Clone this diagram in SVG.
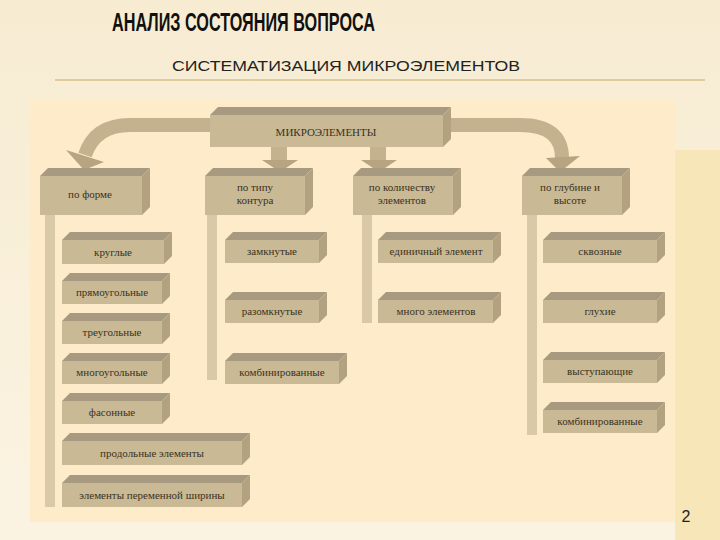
<svg xmlns="http://www.w3.org/2000/svg" width="720" height="540" viewBox="0 0 720 540">
<defs>
<style>
.t{fill:#a79a80}.f{fill:#c9b994}.s{fill:#b2a27f}.bar{fill:#d9c9a6}
.lb{font-family:"Liberation Serif",serif;font-size:11px;fill:#3a3222;text-anchor:middle}
.pipe{fill:none;stroke:#c4b28f;stroke-width:14}
</style>
<linearGradient id="bg" x1="0" y1="0" x2="0" y2="1"><stop offset="0" stop-color="#f7ecd2"/><stop offset="1" stop-color="#fbf3e2"/></linearGradient>
</defs>
<rect width="720" height="540" fill="url(#bg)"/>
<rect x="675" y="150" width="45" height="390" fill="#f6e6b8"/>
<line x1="55" y1="80" x2="705" y2="80" stroke="#d8c08a" stroke-width="1.5"/>
<text x="112" y="31" font-family="Liberation Sans,sans-serif" font-size="26" font-weight="bold" fill="#111" textLength="263" lengthAdjust="spacingAndGlyphs">АНАЛИЗ СОСТОЯНИЯ ВОПРОСА</text>
<text x="172" y="71" font-family="Liberation Sans,sans-serif" font-size="15" fill="#222" textLength="348" lengthAdjust="spacingAndGlyphs">СИСТЕМАТИЗАЦИЯ МИКРОЭЛЕМЕНТОВ</text>
<rect x="30" y="100" width="645" height="422" fill="#fdebc9"/>

<g id="connectors">
<path class="pipe" d="M212,125 H130 Q95,125 85,155"/>
<polygon points="66,150 104,162 84,170" fill="#b7a582"/>
<path class="pipe" d="M440,125 H520 Q562,125 562,158"/>
<polygon points="546,158 580,156 560,172" fill="#b7a582"/>
<rect x="271" y="147" width="16" height="16" fill="#c4b28f"/><polygon points="262,160 298,160 280,172" fill="#b7a582"/>
<rect x="370" y="147" width="16" height="16" fill="#c4b28f"/><polygon points="361,160 397,160 379,172" fill="#b7a582"/>
<rect class="bar" x="45" y="215" width="10" height="292"/>
<rect class="bar" x="207" y="215" width="10" height="165"/>
<rect class="bar" x="362" y="215" width="10" height="108"/>
<rect class="bar" x="527" y="215" width="10" height="220"/>
</g>

<g id="n0"><polygon class="t" points="210,115 218,107 451,107 443,115"/><rect class="f" x="210" y="115" width="233" height="32"/><polygon class="s" points="443,115 451,107 451,139 443,147"/><text class="lb" x="326" y="136" font-size="15">МИКРОЭЛЕМЕНТЫ</text></g>

<g id="c1"><polygon class="t" points="40,176 48,168 150,168 142,176"/><rect class="f" x="40" y="176" width="102" height="39"/><polygon class="s" points="142,176 150,168 150,207 142,215"/><text class="lb" x="90" y="198">по форме</text></g>
<g id="c2"><polygon class="t" points="205,176 213,168 313,168 305,176"/><rect class="f" x="205" y="176" width="100" height="39"/><polygon class="s" points="305,176 313,168 313,207 305,215"/><text class="lb" x="255" y="191">по типу</text><text class="lb" x="255" y="204">контура</text></g>
<g id="c3"><polygon class="t" points="353,176 361,168 461,168 453,176"/><rect class="f" x="353" y="176" width="100" height="39"/><polygon class="s" points="453,176 461,168 461,207 453,215"/><text class="lb" x="402" y="191">по количеству</text><text class="lb" x="402" y="204">элементов</text></g>
<g id="c4"><polygon class="t" points="522,176 530,168 630,168 622,176"/><rect class="f" x="522" y="176" width="100" height="39"/><polygon class="s" points="622,176 630,168 630,207 622,215"/><text class="lb" x="570" y="191">по глубине и</text><text class="lb" x="570" y="204">высоте</text></g>

<g id="k1"><polygon class="t" points="62,240 70,232 172,232 164,240"/><rect class="f" x="62" y="240" width="102" height="24"/><polygon class="s" points="164,240 172,232 172,256 164,264"/><text class="lb" x="113" y="256">круглые</text></g>
<g id="k2"><polygon class="t" points="62,281 70,273 170,273 162,281"/><rect class="f" x="62" y="281" width="100" height="23"/><polygon class="s" points="162,281 170,273 170,296 162,304"/><text class="lb" x="112" y="296">прямоугольные</text></g>
<g id="k3"><polygon class="t" points="62,321 70,313 170,313 162,321"/><rect class="f" x="62" y="321" width="100" height="23"/><polygon class="s" points="162,321 170,313 170,336 162,344"/><text class="lb" x="112" y="336">треугольные</text></g>
<g id="k4"><polygon class="t" points="62,361 70,353 170,353 162,361"/><rect class="f" x="62" y="361" width="100" height="23"/><polygon class="s" points="162,361 170,353 170,376 162,384"/><text class="lb" x="112" y="376">многоугольные</text></g>
<g id="k5"><polygon class="t" points="62,401 70,393 170,393 162,401"/><rect class="f" x="62" y="401" width="100" height="23"/><polygon class="s" points="162,401 170,393 170,416 162,424"/><text class="lb" x="112" y="416">фасонные</text></g>
<g id="k6"><polygon class="t" points="62,441 70,433 250,433 242,441"/><rect class="f" x="62" y="441" width="180" height="24"/><polygon class="s" points="242,441 250,433 250,457 242,465"/><text class="lb" x="152" y="457">продольные элементы</text></g>
<g id="k7"><polygon class="t" points="62,483 70,475 250,475 242,483"/><rect class="f" x="62" y="483" width="180" height="24"/><polygon class="s" points="242,483 250,475 250,499 242,507"/><text class="lb" x="152" y="499">элементы переменной ширины</text></g>

<g id="t1"><polygon class="t" points="225,240 233,232 327,232 319,240"/><rect class="f" x="225" y="240" width="94" height="23"/><polygon class="s" points="319,240 327,232 327,255 319,263"/><text class="lb" x="272" y="255">замкнутые</text></g>
<g id="t2"><polygon class="t" points="225,300 233,292 327,292 319,300"/><rect class="f" x="225" y="300" width="94" height="23"/><polygon class="s" points="319,300 327,292 327,315 319,323"/><text class="lb" x="272" y="315">разомкнутые</text></g>
<g id="t3"><polygon class="t" points="225,361 233,353 347,353 339,361"/><rect class="f" x="225" y="361" width="114" height="23"/><polygon class="s" points="339,361 347,353 347,376 339,384"/><text class="lb" x="282" y="376">комбинированные</text></g>

<g id="q1"><polygon class="t" points="378,240 386,232 501,232 493,240"/><rect class="f" x="378" y="240" width="115" height="23"/><polygon class="s" points="493,240 501,232 501,255 493,263"/><text class="lb" x="436" y="255">единичный элемент</text></g>
<g id="q2"><polygon class="t" points="378,300 386,292 501,292 493,300"/><rect class="f" x="378" y="300" width="115" height="23"/><polygon class="s" points="493,300 501,292 501,315 493,323"/><text class="lb" x="436" y="315">много элементов</text></g>

<g id="g1"><polygon class="t" points="543,240 551,232 665,232 657,240"/><rect class="f" x="543" y="240" width="114" height="23"/><polygon class="s" points="657,240 665,232 665,255 657,263"/><text class="lb" x="600" y="255">сквозные</text></g>
<g id="g2"><polygon class="t" points="543,300 551,292 665,292 657,300"/><rect class="f" x="543" y="300" width="114" height="23"/><polygon class="s" points="657,300 665,292 665,315 657,323"/><text class="lb" x="600" y="315">глухие</text></g>
<g id="g3"><polygon class="t" points="543,360 551,352 665,352 657,360"/><rect class="f" x="543" y="360" width="114" height="23"/><polygon class="s" points="657,360 665,352 665,375 657,383"/><text class="lb" x="600" y="375">выступающие</text></g>
<g id="g4"><polygon class="t" points="543,410 551,402 665,402 657,410"/><rect class="f" x="543" y="410" width="114" height="23"/><polygon class="s" points="657,410 665,402 665,425 657,433"/><text class="lb" x="600" y="425">комбинированные</text></g>

<text x="686" y="522" font-family="Liberation Sans,sans-serif" font-size="16" fill="#222" text-anchor="middle">2</text>
</svg>
